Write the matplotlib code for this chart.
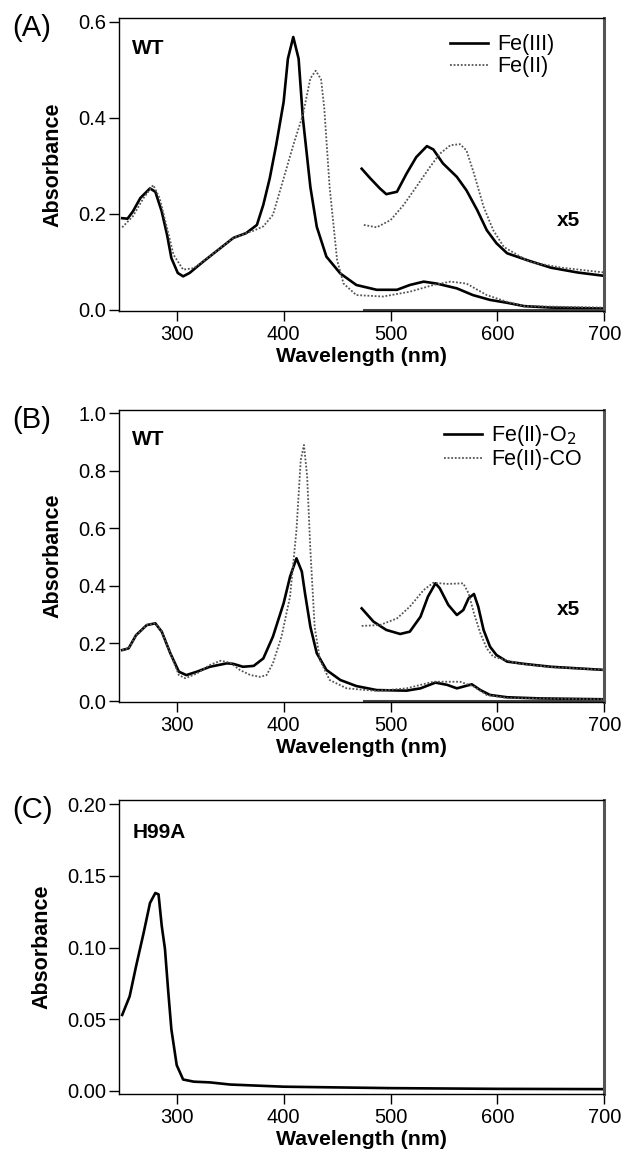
import matplotlib
matplotlib.use("Agg")
import matplotlib.pyplot as plt

plt.rcParams['font.family'] = ['Liberation Sans', 'DejaVu Sans']

# ---- panel A: WT, Fe(III) / Fe(II)
a_fe3_x = [249, 254, 259, 266, 275, 280, 286, 291, 295, 301, 306, 312, 325, 337, 353, 365, 375, 381,
           387, 393, 400, 404, 409, 414, 418, 425, 431, 440, 453, 468, 487, 506, 518, 531, 543, 562,
           577, 593, 609, 625, 650, 700]
a_fe3_y = [0.191, 0.190, 0.205, 0.233, 0.253, 0.246, 0.205, 0.156, 0.108, 0.077, 0.070, 0.077, 0.101,
           0.122, 0.150, 0.160, 0.177, 0.219, 0.274, 0.343, 0.433, 0.523, 0.568, 0.523, 0.399, 0.256,
           0.173, 0.111, 0.076, 0.052, 0.042, 0.042, 0.052, 0.059, 0.055, 0.045, 0.031, 0.021, 0.015,
           0.008, 0.005, 0.003]
a_fe2_x = [249, 259, 269, 278, 284, 291, 297, 306, 316, 337, 353, 365, 372, 381, 390, 400, 409, 418,
           425, 430, 435, 438, 443, 450, 456, 468, 493, 518, 540, 556, 571, 590, 609, 625, 700]
a_fe2_y = [0.172, 0.195, 0.233, 0.260, 0.233, 0.170, 0.115, 0.084, 0.087, 0.122, 0.150, 0.160, 0.165,
           0.174, 0.198, 0.274, 0.343, 0.406, 0.482, 0.498, 0.480, 0.420, 0.256, 0.104, 0.055, 0.031,
           0.028, 0.038, 0.052, 0.059, 0.055, 0.031, 0.017, 0.008, 0.005]
a_fe3_x5_x = [473, 481, 490, 496, 506, 515, 524, 534, 540, 549, 562, 571, 581, 590, 599, 609, 630,
              650, 675, 700]
a_fe3_x5_y = [0.294, 0.274, 0.253, 0.241, 0.246, 0.284, 0.318, 0.341, 0.334, 0.305, 0.277, 0.249,
              0.208, 0.166, 0.139, 0.118, 0.102, 0.088, 0.078, 0.071]
a_fe2_x5_x = [475, 487, 500, 512, 524, 537, 546, 556, 565, 571, 578, 587, 596, 606, 630, 660, 700]
a_fe2_x5_y = [0.177, 0.172, 0.187, 0.218, 0.256, 0.298, 0.325, 0.343, 0.345, 0.332, 0.284, 0.215,
              0.166, 0.131, 0.100, 0.088, 0.078]

# ---- panel B: WT, Fe(II)-O2 / Fe(II)-CO
b_o2_x = [249, 255, 262, 272, 280, 286, 294, 302, 309, 319, 331, 347, 353, 362, 372, 381, 390, 400,
          406, 412, 417, 420, 425, 431, 440, 453, 468, 487, 515, 528, 542, 553, 562, 576, 584, 593,
          609, 640, 700]
b_o2_y = [0.177, 0.183, 0.229, 0.264, 0.270, 0.241, 0.166, 0.102, 0.090, 0.102, 0.119, 0.131, 0.129,
          0.119, 0.122, 0.148, 0.224, 0.340, 0.432, 0.496, 0.450, 0.374, 0.258, 0.166, 0.108, 0.073,
          0.052, 0.038, 0.036, 0.044, 0.064, 0.056, 0.044, 0.058, 0.038, 0.021, 0.013, 0.009, 0.006]
b_co_x = [249, 255, 262, 272, 280, 286, 294, 302, 308, 319, 331, 341, 350, 359, 369, 378, 384, 390,
          398, 406, 412, 416, 419, 422, 425, 429, 434, 443, 459, 487, 515, 540, 565, 578, 590, 610, 700]
b_co_y = [0.177, 0.183, 0.229, 0.264, 0.270, 0.241, 0.166, 0.090, 0.079, 0.096, 0.125, 0.140, 0.133,
          0.108, 0.090, 0.084, 0.090, 0.131, 0.224, 0.363, 0.594, 0.838, 0.890, 0.780, 0.525, 0.258,
          0.142, 0.073, 0.044, 0.035, 0.044, 0.067, 0.067, 0.050, 0.021, 0.010, 0.006]
b_o2_x5_x = [473, 484, 496, 509, 518, 528, 535, 542, 546, 554, 562, 568, 573, 578, 582, 587, 593,
             599, 609, 625, 650, 700]
b_o2_x5_y = [0.322, 0.276, 0.247, 0.233, 0.241, 0.293, 0.363, 0.409, 0.392, 0.334, 0.299, 0.316,
             0.357, 0.372, 0.328, 0.247, 0.189, 0.160, 0.137, 0.129, 0.119, 0.108]
b_co_x5_x = [473, 490, 506, 518, 531, 540, 553, 568, 573, 578, 584, 590, 596, 620, 650, 700]
b_co_x5_y = [0.261, 0.264, 0.287, 0.328, 0.386, 0.411, 0.407, 0.409, 0.374, 0.305, 0.235, 0.183,
             0.154, 0.130, 0.118, 0.108]

# ---- panel C: H99A
c_x = [249, 256, 262, 269, 275, 280, 283, 286, 289, 292, 295, 300, 306, 316, 331, 350, 400, 500,
       600, 700]
c_y = [0.053, 0.066, 0.087, 0.110, 0.131, 0.138, 0.137, 0.115, 0.099, 0.070, 0.043, 0.018, 0.008,
       0.0065, 0.0060, 0.0045, 0.0030, 0.0020, 0.0015, 0.0013]

base_x = [475, 700]
base_y = [0.0, 0.0]

xticks = [300, 400, 500, 600, 700]

fig = plt.figure(figsize=(6.22, 11.57), dpi=100)
W = 622.0
H = 1157.0
L = 119.3
R = 604.4


def make_ax(top, bottom):
    return fig.add_axes([L / W, 1 - bottom / H, (R - L) / W, (bottom - top) / H])


def style(ax, ylim, yticks, yfmt):
    ax.set_xlim(246.3, 700)
    ax.set_ylim(*ylim)
    ax.set_xticks(xticks)
    ax.set_yticks(yticks)
    ax.set_yticklabels([yfmt.format(v) for v in yticks])
    ax.tick_params(direction='out', length=7.2, width=1, labelsize=14.5)
    ax.tick_params(axis='y', pad=2)
    ax.tick_params(axis='x', pad=3)
    ax.set_xlabel("Wavelength (nm)", fontsize=15.3, fontweight='bold', labelpad=2)
    ax.set_ylabel("Absorbance", fontsize=15.5, fontweight='bold', labelpad=11)
    for s in ax.spines.values():
        s.set_linewidth(1.0)
    ax.spines['right'].set_linewidth(2.2)
    ax.spines['right'].set_color('#555555')


solid = dict(color='black', lw=1.9)
dotted = dict(color='#555555', lw=1.3, ls=(0, (1, 1)))
leg_kw = dict(loc='upper right', frameon=False, fontsize=15.5, handlelength=1.75,
              handletextpad=0.45, labelspacing=0.05, borderpad=0, borderaxespad=0)

# (A)
ax = make_ax(18.3, 310.7)
ax.plot(a_fe3_x, a_fe3_y, label="Fe(III)", **solid)
ax.plot(a_fe2_x, a_fe2_y, label="Fe(II)", **dotted)
ax.plot(a_fe3_x5_x, a_fe3_x5_y, **solid)
ax.plot(a_fe2_x5_x, a_fe2_x5_y, **dotted)
ax.plot(base_x, base_y, color='#444444', lw=2.2)
style(ax, (-0.0015, 0.607), [0.0, 0.2, 0.4, 0.6], "{:.1f}")
ax.text(0.026, 0.898, "WT", transform=ax.transAxes, fontsize=15, fontweight='bold', va='center')
ax.text(0.926, 0.31, "x5", transform=ax.transAxes, fontsize=15, fontweight='bold',
        ha='center', va='center')
ax.legend(bbox_to_anchor=(0.898, 0.945), **leg_kw)
fig.text(32 / W, 1 - 28 / H, "(A)", fontsize=21, va='center', ha='center')

# (B)
ax = make_ax(410, 702.3)
ax.plot(b_o2_x, b_o2_y, label="Fe(II)-O$_2$", **solid)
ax.plot(b_co_x, b_co_y, label="Fe(II)-CO", **dotted)
ax.plot(b_o2_x5_x, b_o2_x5_y, **solid)
ax.plot(b_co_x5_x, b_co_x5_y, **dotted)
ax.plot(base_x, base_y, color='#444444', lw=2.2)
style(ax, (-0.0045, 1.0115), [0.0, 0.2, 0.4, 0.6, 0.8, 1.0], "{:.1f}")
ax.text(0.026, 0.898, "WT", transform=ax.transAxes, fontsize=15, fontweight='bold', va='center')
ax.text(0.926, 0.316, "x5", transform=ax.transAxes, fontsize=15, fontweight='bold',
        ha='center', va='center')
ax.legend(bbox_to_anchor=(0.954, 0.955), **leg_kw)
fig.text(32 / W, 1 - 420 / H, "(B)", fontsize=21, va='center', ha='center')

# (C)
ax = make_ax(800, 1094.3)
ax.plot(c_x, c_y, **solid)
style(ax, (-0.0023, 0.2028), [0.0, 0.05, 0.10, 0.15, 0.20], "{:.2f}")
ax.text(0.028, 0.891, "H99A", transform=ax.transAxes, fontsize=15, fontweight='bold', va='center')
fig.text(32 / W, 1 - 810 / H, "(C)", fontsize=21, va='center', ha='center')

fig.savefig("out.png", dpi=100)
